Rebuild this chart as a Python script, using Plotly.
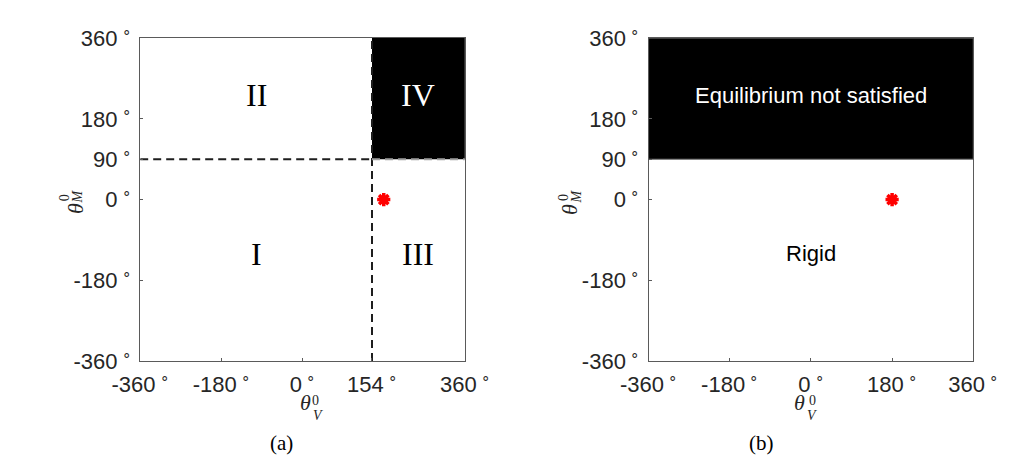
import plotly.graph_objects as go

W, H = 1013, 475

# ---------------- data ----------------
axis_min, axis_max = -360, 360
ticks_a_x = [-360, -180, 0, 154, 360]
ticks_b_x = [-360, -180, 0, 180, 360]
ticks_y = [-360, -180, 0, 90, 180, 360]
theta_V_crit = 154          # vertical boundary in panel (a)
theta_M_crit = 90           # horizontal boundary in both panels
point_V = [180]
point_M = [0]
labels_a = ["I", "II", "III", "IV"]
labels_a_x = [-103, -103, 257, 257]
labels_a_y = [-121, 234, -121, 234]
labels_b = ["Equilibrium not satisfied", "Rigid"]
labels_b_x = [0, 0]
labels_b_y = [232, -121]
labels_b_color = ["white", "black"]
captions = ["(a)", "(b)"]


def deg(v):
    return f"{v}<sup> ∘</sup>"


fig = go.Figure()

dash_style = dict(color="#1e1e1e", width=2, dash="8px,5px")

# ---- panel (a) ----
fig.add_trace(go.Scatter(
    x=[theta_V_crit, axis_max, axis_max, theta_V_crit, theta_V_crit],
    y=[theta_M_crit, theta_M_crit, axis_max, axis_max, theta_M_crit],
    fill="toself", fillcolor="black", mode="lines", line=dict(width=0),
    xaxis="x", yaxis="y", showlegend=False, hoverinfo="skip"))
fig.add_trace(go.Scatter(
    x=[theta_V_crit, theta_V_crit], y=[axis_min, axis_max], mode="lines",
    line=dash_style, xaxis="x", yaxis="y", showlegend=False, hoverinfo="skip"))
fig.add_trace(go.Scatter(
    x=[axis_min, theta_V_crit], y=[theta_M_crit, theta_M_crit], mode="lines",
    line=dash_style, xaxis="x", yaxis="y", showlegend=False, hoverinfo="skip"))
fig.add_trace(go.Scatter(
    x=[theta_V_crit, axis_max], y=[theta_M_crit, theta_M_crit], mode="lines",
    line=dict(color="#a0a0a0", width=2, dash="8px,5px"),
    xaxis="x", yaxis="y", showlegend=False, hoverinfo="skip"))
fig.add_trace(go.Scatter(
    x=point_V, y=point_M, mode="markers",
    marker=dict(symbol="asterisk-open", size=11, color="red",
                line=dict(color="red", width=3.5)),
    xaxis="x", yaxis="y", showlegend=False, hoverinfo="skip"))

# ---- panel (b) ----
fig.add_trace(go.Scatter(
    x=[axis_min, axis_max, axis_max, axis_min, axis_min],
    y=[theta_M_crit, theta_M_crit, axis_max, axis_max, theta_M_crit],
    fill="toself", fillcolor="black", mode="lines",
    line=dict(width=1, color="#6e6e6e"),
    xaxis="x2", yaxis="y2", showlegend=False, hoverinfo="skip"))
fig.add_trace(go.Scatter(
    x=point_V, y=point_M, mode="markers",
    marker=dict(symbol="asterisk-open", size=11, color="red",
                line=dict(color="red", width=3.5)),
    xaxis="x2", yaxis="y2", showlegend=False, hoverinfo="skip"))

axis_common = dict(
    range=[axis_min, axis_max], showgrid=False, zeroline=False,
    showline=True, mirror=True, linecolor="#5a5a5a", linewidth=1,
    ticks="inside", ticklen=3, tickcolor="#5a5a5a",
    ticklabeloverflow="allow",
    tickfont=dict(family="Liberation Sans", size=22, color="#262626"),
    fixedrange=True)

ydom = [1 - 359 / H, 1 - 15 / H]
fig.update_layout(
    width=W, height=H, margin=dict(l=0, r=0, t=0, b=0),
    paper_bgcolor="white", plot_bgcolor="white",
    xaxis=dict(domain=[109 / W, 452 / W], anchor="y",
               tickvals=ticks_a_x, ticktext=[deg(v) for v in ticks_a_x],
               ticklabelstandoff=4, **axis_common),
    yaxis=dict(domain=ydom, anchor="x",
               tickvals=ticks_y, ticktext=[deg(v) for v in ticks_y],
               ticklabelstandoff=4, **axis_common),
    xaxis2=dict(domain=[646 / W, 989 / W], anchor="y2",
                tickvals=ticks_b_x, ticktext=[deg(v) for v in ticks_b_x],
                ticklabelstandoff=4, **axis_common),
    yaxis2=dict(domain=ydom, anchor="x2",
                tickvals=ticks_y, ticktext=[deg(v) for v in ticks_y],
                ticklabelstandoff=4, **axis_common),
)

ann = []
for t, x, y in zip(labels_a, labels_a_x, labels_a_y):
    ann.append(dict(text=t, x=x, y=y, xref="x", yref="y", showarrow=False,
                    font=dict(family="Liberation Serif", size=32,
                              color="white" if t == "IV" else "black")))
for t, x, y, c in zip(labels_b, labels_b_x, labels_b_y, labels_b_color):
    ann.append(dict(text=t, x=x, y=y, xref="x2", yref="y2", showarrow=False,
                    font=dict(family="Liberation Sans", size=22, color=c)))

# axis titles (theta with stacked sub/superscripts)
serif = "Liberation Serif"
for off in (0, 537):
    # x title
    ann.append(dict(text="<i>θ</i>", x=(276 + off) / W, y=1 - 419 / H,
                    xref="paper", yref="paper", showarrow=False,
                    font=dict(family=serif, size=22, color="#262626")))
    ann.append(dict(text="0", x=(288 + off) / W, y=1 - 411 / H,
                    xref="paper", yref="paper", showarrow=False,
                    font=dict(family=serif, size=14, color="#262626")))
    ann.append(dict(text="<i>V</i>", x=(289 + off) / W, y=1 - 427 / H,
                    xref="paper", yref="paper", showarrow=False,
                    font=dict(family=serif, size=14, color="#262626")))
    # y title (rotated)
    ann.append(dict(text="<i>θ</i>", x=(26 + off) / W, y=1 - 197 / H,
                    xref="paper", yref="paper", showarrow=False, textangle=-90,
                    font=dict(family=serif, size=22, color="#262626")))
    ann.append(dict(text="0", x=(19 + off) / W, y=1 - 185 / H,
                    xref="paper", yref="paper", showarrow=False, textangle=-90,
                    font=dict(family=serif, size=14, color="#262626")))
    ann.append(dict(text="<i>M</i>", x=(33 + off) / W, y=1 - 184 / H,
                    xref="paper", yref="paper", showarrow=False, textangle=-90,
                    font=dict(family=serif, size=14, color="#262626")))

for cap, cx in zip(captions, (244, 781)):
    ann.append(dict(text=cap, x=cx / W, y=1 - 461 / H, xref="paper",
                    yref="paper", showarrow=False,
                    font=dict(family=serif, size=21, color="black")))

fig.update_layout(annotations=ann)
fig.write_html("out.html")
